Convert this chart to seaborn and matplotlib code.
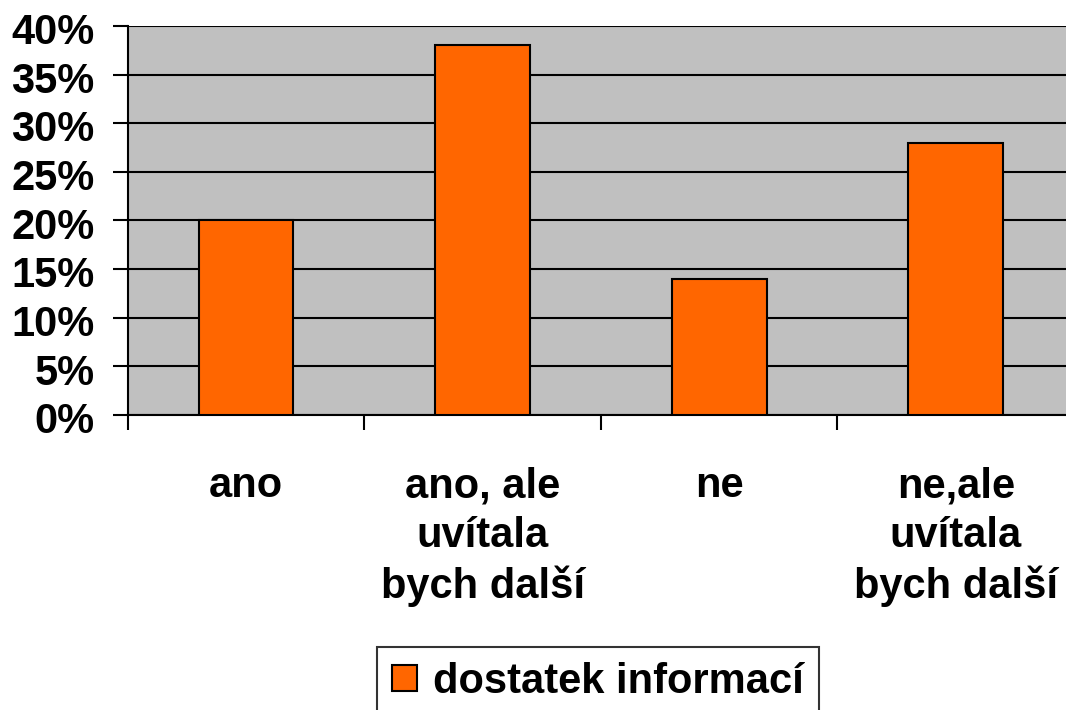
import matplotlib
matplotlib.use('Agg')
import matplotlib.pyplot as plt
import matplotlib.ticker as mticker
import matplotlib.transforms as mtransforms
import seaborn as sns

categories = ['ano', 'ano, ale\nuvítala\nbych další', 'ne', 'ne,ale\nuvítala\nbych další']
values = [20, 38, 14, 28]
series_name = 'dostatek informací'

sns.set_style('white')
plt.rcParams['font.family'] = ['Liberation Sans', 'DejaVu Sans']
plt.rcParams['font.weight'] = 'bold'
plt.rcParams['text.color'] = 'black'
plt.rcParams['xtick.color'] = 'black'
plt.rcParams['ytick.color'] = 'black'

fig = plt.figure(figsize=(10.66, 7.1), dpi=100)
ax = fig.add_axes([0.12, 0.4155, 0.8875, 0.548])

sns.barplot(x=categories, y=values, color='#FF6600', edgecolor='black',
            linewidth=1.5, width=0.4, saturation=1, ax=ax, label=series_name,
            zorder=3)

ax.set_facecolor('#C0C0C0')
ax.set_ylim(0, 40)
ax.set_xlim(-0.5, 3.5)
ax.yaxis.set_major_locator(mticker.MultipleLocator(5))
ax.yaxis.set_major_formatter(mticker.FuncFormatter(lambda v, p: f'{v:.0f}%'))
ax.grid(axis='y', color='black', linewidth=1.5, zorder=1)
ax.set_axisbelow(True)

# category boundaries as ticks, labels at centres
ax.set_xticks([-0.5, 0.5, 1.5, 2.5, 3.5])
ax.set_xticklabels([])
ax.set_xticks(range(len(categories)), minor=True)
ax.set_xticklabels(categories, minor=True, fontsize=30, fontweight='bold',
                   linespacing=1.3, color='black')
ax.tick_params(axis='x', which='major', bottom=True, length=11, width=1.5,
               color='black', direction='out')
ax.tick_params(axis='x', which='minor', bottom=True, length=0, pad=37)
ax.tick_params(axis='y', left=True, length=11, width=1.5, color='black',
               direction='out', labelsize=30, pad=13, labelcolor='black')

# y labels sit a touch below their ticks in the original
shift = mtransforms.ScaledTranslation(0, -2 / 72, fig.dpi_scale_trans)
for lbl in ax.get_yticklabels():
    lbl.set_fontweight('bold')
    lbl.set_transform(lbl.get_transform() + shift)

for side in ['top', 'right']:
    ax.spines[side].set_visible(False)
ax.spines['left'].set_color('black')
ax.spines['left'].set_linewidth(1.5)
ax.spines['bottom'].set_color('black')
ax.spines['bottom'].set_linewidth(1.5)
ax.set_xlabel('')
ax.set_ylabel('')

if ax.get_legend():
    ax.get_legend().remove()
handles, labels = ax.get_legend_handles_labels()
leg = fig.legend(handles[:1], labels[:1], loc='upper left',
                 bbox_to_anchor=(377 / 1066, 1 - 647 / 710), frameon=True,
                 fancybox=False, edgecolor='black', handlelength=0.6,
                 handleheight=0.6, handletextpad=0.4, borderpad=0.35,
                 borderaxespad=0, prop={'size': 30, 'weight': 'bold'})
leg.get_frame().set_linewidth(1.5)

fig.savefig('out.png', dpi=100)
